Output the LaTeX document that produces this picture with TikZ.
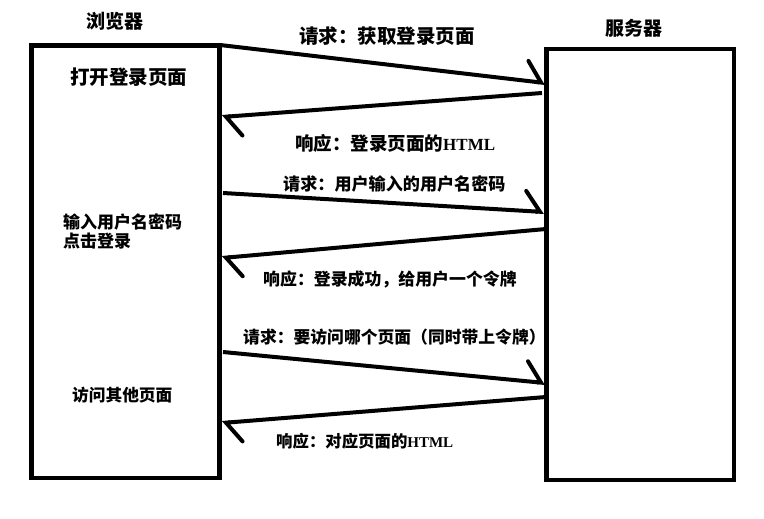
\documentclass[tikz,border=0pt]{standalone}
\usepackage{fontspec}
\newfontfamily\cjk{Noto Sans CJK SC}
\newfontfamily\htmlf{Liberation Serif}
\usetikzlibrary{arrows.meta}
\tikzset{
  box/.style={draw, line width=4.5pt, rectangle, inner sep=0pt},
  msg/.style={line width=4pt, -{Straight Barb[harpoon, length=15pt, width=40pt, line cap=round]}},
  lbl/.style={inner sep=0pt, anchor=west, font=\cjk\bfseries},
  ttl/.style={inner sep=0pt, font=\cjk\bfseries\fontsize{19}{22}\selectfont}
}
\begin{document}
\begin{tikzpicture}[x=1pt,y=-1pt]
\useasboundingbox (0,0) rectangle (764,519);
\fill[white] (0,0) rectangle (764,519);
% boxes
\node[box, minimum width=188pt, minimum height=432.5pt] (L) at (125.5,261.75) {};
\node[box, minimum width=187.5pt, minimum height=431pt] (R) at (640.25,264.5) {};
% titles
\node[ttl] (tL) at (115,21) {浏览器};
\node[ttl] (tR) at (634,28) {服务器};
% browser texts
\node[lbl, font=\cjk\bfseries\fontsize{19.5}{22}\selectfont] (b1) at (70,77) {打开登录页面};
\node[lbl, align=left, font=\cjk\bfseries\fontsize{17}{19}\selectfont] (b2) at (63,231.5) {输入用户名密码\\点击登录};
\node[lbl, font=\cjk\bfseries\fontsize{16.7}{19}\selectfont] (b3) at (72,395) {访问其他页面};
% message labels
\node[lbl, font=\cjk\bfseries\fontsize{19.5}{22}\selectfont] (m1) at (299,36) {请求：获取登录页面};
\node[lbl, font=\cjk\bfseries\fontsize{18.5}{22}\selectfont] (m2) at (295,143) {响应：登录页面的{\htmlf\bfseries\fontsize{17}{20}\selectfont HTML}};
\node[lbl, font=\cjk\bfseries\fontsize{17.1}{22}\selectfont] (m3) at (283,184) {请求：用户输入的用户名密码};
\node[lbl, font=\cjk\bfseries\fontsize{16.9}{22}\selectfont] (m4) at (263,279) {响应：登录成功，给用户一个令牌};
\node[lbl, font=\cjk\bfseries\fontsize{16.8}{22}\selectfont] (m5) at (243,337) {请求：要访问哪个页面（同时带上令牌）};
\node[lbl, font=\cjk\bfseries\fontsize{16.4}{20}\selectfont] (m6) at (276,441) {响应：对应页面的{\htmlf\bfseries\fontsize{15}{18}\selectfont HTML}};
% connector end points
\coordinate (a1s) at (220,45);  \coordinate (a1e) at (545,83);
\coordinate (a2s) at (542,93);  \coordinate (a2e) at (222,117);
\coordinate (a3s) at (223,193); \coordinate (a3e) at (544,212);
\coordinate (a4s) at (546,229); \coordinate (a4e) at (222,258);
\coordinate (a5s) at (223,352); \coordinate (a5e) at (545,383);
\coordinate (a6s) at (546,397); \coordinate (a6e) at (222,423);
\draw[msg] (a1s) -- (a1e);
\draw[msg] (a2s) -- (a2e);
\draw[msg] (a3s) -- (a3e);
\draw[msg] (a4s) -- (a4e);
\draw[msg] (a5s) -- (a5e);
\draw[msg] (a6s) -- (a6e);
\end{tikzpicture}
\end{document}
